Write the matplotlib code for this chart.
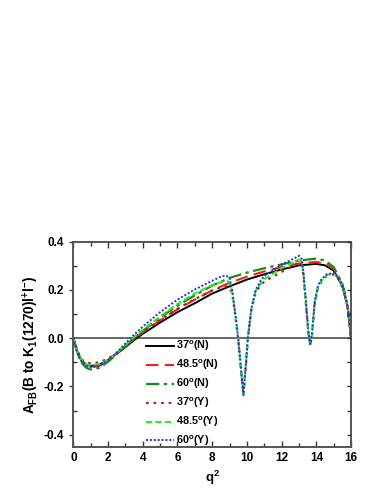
import numpy as np
import matplotlib
matplotlib.use("Agg")
import matplotlib.pyplot as plt
from matplotlib.ticker import MultipleLocator, FormatStrFormatter

plt.rcParams['font.family'] = ['Liberation Sans', 'DejaVu Sans']
plt.rcParams['font.weight'] = 'bold'
plt.rcParams['mathtext.fontset'] = 'custom'
plt.rcParams['mathtext.rm'] = 'Liberation Sans:bold'
plt.rcParams['mathtext.it'] = 'Liberation Sans:bold'
plt.rcParams['mathtext.bf'] = 'Liberation Sans:bold'
plt.rcParams['mathtext.default'] = 'regular'

# === Data ===
q_n = [0, 0.25, 0.5, 0.75, 1, 1.5, 2, 2.5, 3, 3.5, 4, 5, 6, 7, 8, 9, 10, 11, 12, 13, 14, 14.5, 15, 15.5, 15.8, 16]
afb_37n = [0, -0.06, -0.095, -0.11, -0.115, -0.11, -0.09, -0.065, -0.037, -0.008, 0.018, 0.065, 0.108,
           0.145, 0.185, 0.215, 0.243, 0.265, 0.285, 0.302, 0.308, 0.302, 0.28, 0.215, 0.13, 0.0]
afb_485n = [0, -0.062, -0.098, -0.115, -0.12, -0.115, -0.092, -0.064, -0.034, -0.003, 0.024, 0.074, 0.12,
            0.16, 0.198, 0.23, 0.255, 0.277, 0.295, 0.31, 0.316, 0.31, 0.288, 0.22, 0.132, 0.0]
afb_60n = [0, -0.066, -0.104, -0.123, -0.13, -0.123, -0.098, -0.066, -0.032, 0.002, 0.03, 0.085, 0.135,
           0.178, 0.218, 0.25, 0.272, 0.29, 0.306, 0.322, 0.33, 0.322, 0.295, 0.225, 0.135, 0.0]

q_y = [0, 0.25, 0.5, 0.75, 1, 1.5, 2, 2.5, 3, 3.5, 4, 5, 6, 7, 8, 8.5, 8.8, 9.0, 9.15, 9.3, 9.5, 9.65, 9.8,
       9.95, 10.05, 10.25, 10.5, 10.8, 11, 12, 12.7, 13.0, 13.15, 13.25, 13.4, 13.55, 13.65, 13.75, 13.9,
       14.1, 14.3, 14.6, 15.0, 15.3, 15.6, 15.8, 15.95, 16]
afb_37y = [0, -0.055, -0.09, -0.1, -0.105, -0.1, -0.085, -0.06, -0.03, -0.002, 0.025, 0.075, 0.122,
           0.162, 0.198, 0.21, 0.215, 0.21, 0.185, 0.11, -0.005, -0.125, -0.232, -0.105, -0.005, 0.115,
           0.19, 0.22, 0.235, 0.275, 0.3, 0.312, 0.305, 0.265, 0.14, 0.01, -0.028, 0.01, 0.14, 0.21, 0.235,
           0.258, 0.265, 0.245, 0.195, 0.128, 0.05, 0.0]
afb_485y = [0, -0.06, -0.095, -0.108, -0.112, -0.108, -0.09, -0.062, -0.028, 0.006, 0.035, 0.09, 0.142,
            0.185, 0.22, 0.232, 0.238, 0.232, 0.19, 0.115, -0.002, -0.122, -0.232, -0.102, -0.002, 0.118,
            0.195, 0.228, 0.245, 0.29, 0.315, 0.326, 0.318, 0.272, 0.145, 0.015, -0.025, 0.015, 0.145, 0.215,
            0.24, 0.262, 0.268, 0.248, 0.198, 0.13, 0.05, 0.0]
afb_60y = [0, -0.068, -0.1, -0.115, -0.12, -0.115, -0.092, -0.06, -0.022, 0.015, 0.048, 0.108, 0.16,
           0.202, 0.238, 0.255, 0.26, 0.25, 0.2, 0.12, 0.0, -0.12, -0.236, -0.1, 0.0, 0.12, 0.2, 0.24,
           0.258, 0.305, 0.33, 0.342, 0.33, 0.28, 0.15, 0.02, -0.025, 0.02, 0.15, 0.22, 0.245, 0.265, 0.27,
           0.25, 0.2, 0.13, 0.05, 0.0]

labels = ["37$^{o}$(N)", "48.5$^{o}$(N)", "60$^{o}$(N)", "37$^{o}$(Y)", "48.5$^{o}$(Y)", "60$^{o}$(Y)"]

# === Figure ===
fig = plt.figure(figsize=(3.82, 4.94), dpi=100)
ax = fig.add_axes([0.192, 0.0957, 0.727, 0.415])

ax.axhline(0, color='#666666', lw=1.4, zorder=1)

ax.plot(q_n, afb_37n, color='black', ls='-', lw=1.4, label=labels[0])
ax.plot(q_n, afb_485n, color='#ff1a1a', ls=(0, (6, 3)), lw=1.5, label=labels[1])
ax.plot(q_n, afb_60n, color='#1a8a1a', ls=(0, (6, 2, 1.5, 2)), lw=1.6, label=labels[2])
ax.plot(q_y, afb_37y, color='#a02828', ls=(0, (1.2, 2.2)), lw=1.6, label=labels[3])
ax.plot(q_y, afb_485y, color='#22ee22', ls=(0, (3, 1.5)), lw=1.5, label=labels[4])
ax.plot(q_y, afb_60y, color='#2a2aff', ls=(0, (1, 1)), lw=1.4, label=labels[5])

ax.set_xlim(0, 16)
ax.set_ylim(-0.45, 0.4)
ax.xaxis.set_major_locator(MultipleLocator(2))
ax.xaxis.set_minor_locator(MultipleLocator(1))
ax.yaxis.set_major_locator(MultipleLocator(0.2))
ax.yaxis.set_minor_locator(MultipleLocator(0.1))
ax.yaxis.set_major_formatter(FormatStrFormatter('%.1f'))

for s in ax.spines.values():
    s.set_color('#555555')
    s.set_linewidth(1.4)

ax.tick_params(axis='x', which='both', direction='in', top=True, labelsize=8.5, color='#333333', pad=4)
ax.tick_params(axis='x', which='major', length=4, width=1)
ax.tick_params(axis='x', which='minor', length=3, width=1)
ax.tick_params(axis='y', which='major', direction='out', length=3, width=1, labelsize=8.5, color='#333333')
ax.tick_params(axis='y', which='minor', direction='in', length=3, width=1, color='#333333')
for t in ax.get_xticklabels() + ax.get_yticklabels():
    t.set_fontweight('bold')

# right side ticks pointing inward
rax = ax.twinx()
rax.set_ylim(ax.get_ylim())
rax.yaxis.set_major_locator(MultipleLocator(0.2))
rax.yaxis.set_minor_locator(MultipleLocator(0.1))
rax.tick_params(axis='y', which='both', direction='in', length=3, width=1, labelright=False, color='#333333')
rax.spines[:].set_visible(False)

ax.set_xlabel("q$^2$", fontsize=9.5, fontweight='bold', labelpad=3)
ax.set_ylabel("A$_{FB}$(B to K$_1$(1270)l$^{+}$l$^{-}$)", fontsize=9.8, fontweight='bold', labelpad=2)

ax.legend(loc='upper left', bbox_to_anchor=(0.262, 0.525), frameon=False, fontsize=7.8,
          handlelength=2.6, handletextpad=0.2, labelspacing=0.42, borderaxespad=0, borderpad=0)

fig.savefig("out.png", dpi=100)
